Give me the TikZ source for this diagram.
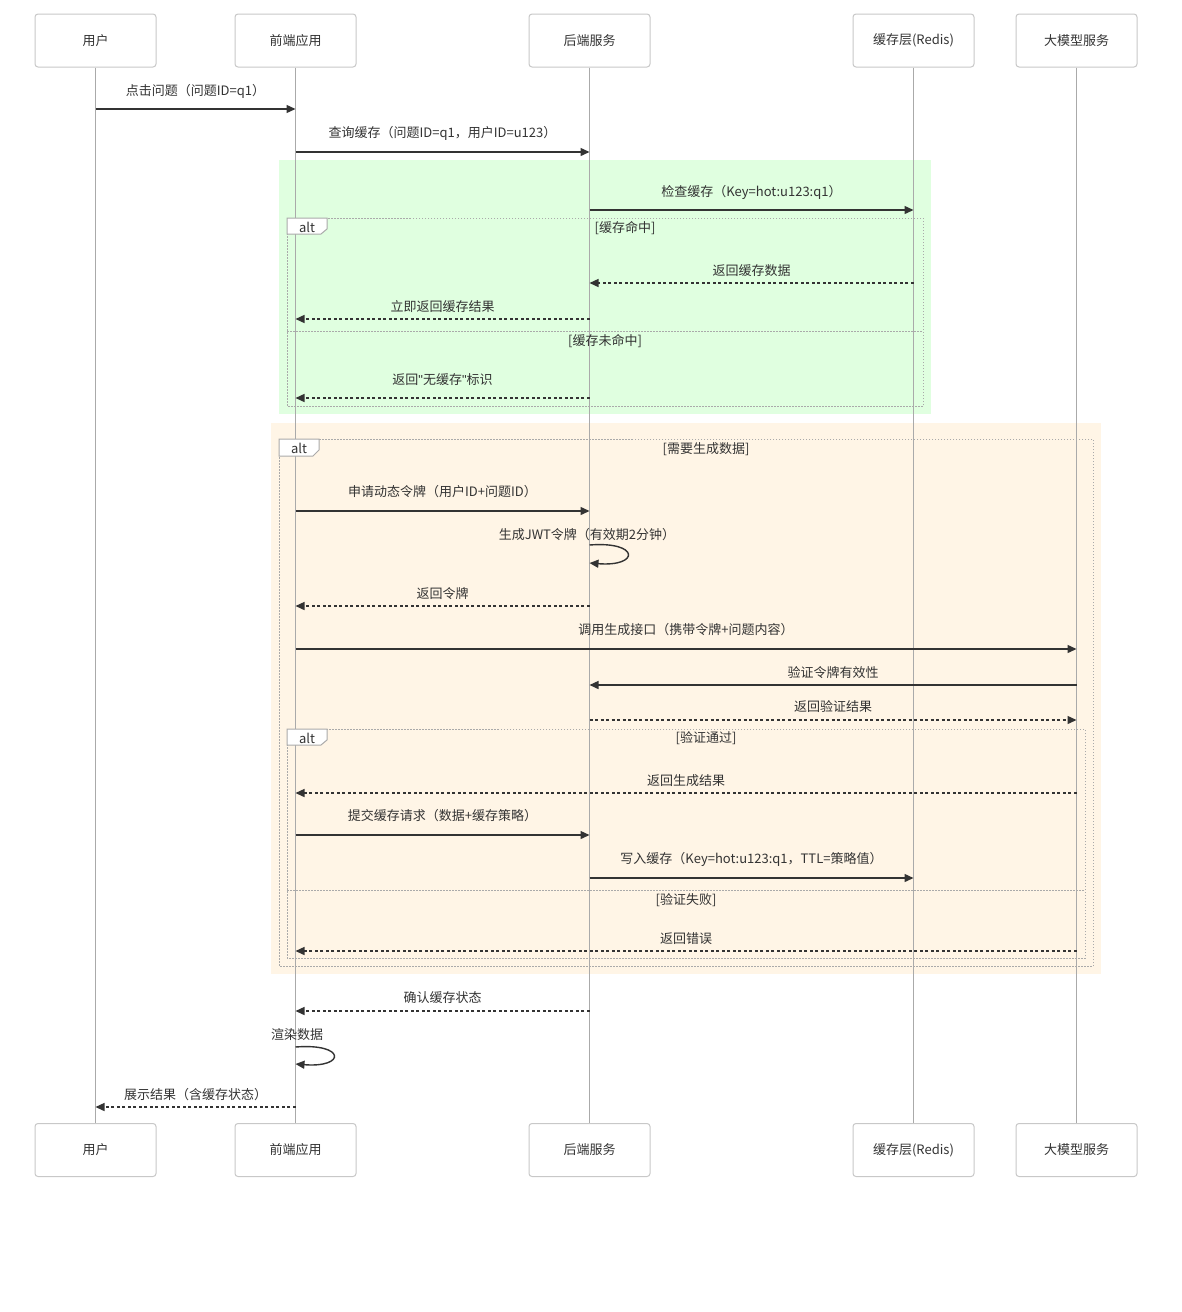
\documentclass[tikz,border=0pt]{standalone}
\usepackage{fontspec}
\setmainfont{Noto Sans CJK SC}
\newfontfamily\latfont{Liberation Sans}
\usetikzlibrary{arrows.meta}
\definecolor{txt}{HTML}{333333}
\definecolor{lifec}{HTML}{AAAAAA}
\definecolor{boxc}{HTML}{C8C8C8}
\definecolor{framec}{HTML}{AAAAAA}
\definecolor{greenbg}{RGB}{224,255,224}
\definecolor{orangebg}{RGB}{255,245,230}
\tikzset{
  actor/.style={draw=boxc, fill=white, rounded corners=3pt, line width=1pt,
    minimum width=121pt, minimum height=53pt, inner sep=0pt, text=txt},
  life/.style={draw=lifec, line width=1.5pt},
  msg/.style={draw=txt, line width=1.4pt, -{Triangle[length=9pt,width=8pt]}},
  ret/.style={msg, dash pattern=on 3pt off 2.5pt},
  lbl/.style={text=txt, inner sep=0pt, anchor=center},
  frame/.style={draw=framec, line width=1pt, dash pattern=on 1.5pt off 1.5pt},
  tab/.style={draw=framec, fill=white, line width=1pt},
}
\newcommand\msgline[7]{% name, y, x1, x2, style, label y, label
  \coordinate (#1a) at (#3,#2);
  \coordinate (#1b) at (#4,#2);
  \draw[#5] (#1a) -- (#1b);
  \node[lbl] (#1t) at ({(#3+#4)/2},#6) {#7};
}
\newcommand\dq{{\latfont\symbol{34}}}
\begin{document}
\begin{tikzpicture}[x=1pt,y=-1pt,font=\fontsize{13}{15}\selectfont]
\fill[white] (0,0) rectangle (1182,1312);
\useasboundingbox (0,0) rectangle (1182,1312);

% background rects
\fill[greenbg] (279,160) rectangle (931,414);
\fill[orangebg] (271,423) rectangle (1101,974);

% actors
\node[actor] (uT) at (95.5,40.5) {用户};
\node[actor] (fT) at (295.5,40.5) {前端应用};
\node[actor] (bT) at (589.5,40.5) {后端服务};
\node[actor] (cT) at (913.5,40.5) {缓存层(Redis)};
\node[actor] (mT) at (1076.5,40.5) {大模型服务};
\node[actor] (uB) at (95.5,1150) {用户};
\node[actor] (fB) at (295.5,1150) {前端应用};
\node[actor] (bB) at (589.5,1150) {后端服务};
\node[actor] (cB) at (913.5,1150) {缓存层(Redis)};
\node[actor] (mB) at (1076.5,1150) {大模型服务};

\def\xU{95.5}\def\xF{295.5}\def\xB{589.5}\def\xC{913.5}\def\xM{1076.5}

% lifelines
\draw[life] (uT.south) -- (uB.north);
\draw[life] (fT.south) -- (fB.north);
\draw[life] (bT.south) -- (bB.north);
\draw[life] (cT.south) -- (cB.north);
\draw[life] (mT.south) -- (mB.north);

% frame 1: alt cache
\draw[frame] (287,218) rectangle (923,406);
\draw[frame] (287,331) -- (923,331);
\draw[tab] (287,218) -- (327,218) -- (327,229) -- (321,234) -- (287,234) -- cycle;
\node[lbl] (alt1) at (307,227) {alt};
\node[lbl] (g1) at (625,228) {[缓存命中]};
\node[lbl] (g2) at (605,341) {[缓存未命中]};

% frame 2: alt generate
\draw[frame] (279,439) rectangle (1093,966);
\draw[tab] (279,439) -- (319,439) -- (319,450) -- (313,456) -- (279,456) -- cycle;
\node[lbl] (alt2) at (299,448) {alt};
\node[lbl] (g3) at (706,449) {[需要生成数据]};

% frame 3: alt verify
\draw[frame] (287,729) rectangle (1085,958);
\draw[frame] (287,890) -- (1085,890);
\draw[tab] (287,729) -- (327,729) -- (327,740) -- (321,745) -- (287,745) -- cycle;
\node[lbl] (alt3) at (307,738) {alt};
\node[lbl] (g4) at (706,738) {[验证通过]};
\node[lbl] (g5) at (686,900) {[验证失败]};

% messages
\msgline{m1}{109}{\xU}{\xF}{msg}{91}{点击问题（问题ID=q1）}
\msgline{m2}{152}{\xF}{\xB}{msg}{133}{查询缓存（问题ID=q1，用户ID=u123）}
\msgline{m3}{210}{\xB}{\xC}{msg}{192}{检查缓存（Key=hot:u123:q1）}
\msgline{m4}{283}{\xC}{\xB}{ret}{271}{返回缓存数据}
\msgline{m5}{319}{\xB}{\xF}{ret}{307}{立即返回缓存结果}
\msgline{m6}{398}{\xB}{\xF}{ret}{380}{返回\dq 无缓存\dq 标识}
\msgline{m7}{511}{\xF}{\xB}{msg}{492}{申请动态令牌（用户ID+问题ID）}

% self loop: JWT
\coordinate (s1a) at (\xB,545);
\coordinate (s1b) at (\xB,563);
\draw[msg] (s1a) .. controls (640,541) and (640,567) .. (s1b);
\node[lbl] (s1t) at (587,535) {生成JWT令牌（有效期2分钟）};

\msgline{m9}{606}{\xB}{\xF}{ret}{594}{返回令牌}
\msgline{m10}{649}{\xF}{\xM}{msg}{630}{调用生成接口（携带令牌+问题内容）}
\msgline{m11}{685}{\xM}{\xB}{msg}{673}{验证令牌有效性}
\msgline{m12}{720}{\xB}{\xM}{ret}{707}{返回验证结果}
\msgline{m13}{793}{\xM}{\xF}{ret}{781}{返回生成结果}
\msgline{m14}{835}{\xF}{\xB}{msg}{816}{提交缓存请求（数据+缓存策略）}
\msgline{m15}{878}{\xB}{\xC}{msg}{859}{写入缓存（Key=hot:u123:q1，TTL=策略值）}
\msgline{m16}{951}{\xM}{\xF}{ret}{939}{返回错误}
\msgline{m17}{1011}{\xB}{\xF}{ret}{998}{确认缓存状态}

% self loop: render
\coordinate (s2a) at (\xF,1047);
\coordinate (s2b) at (\xF,1064);
\draw[msg] (s2a) .. controls (346,1043) and (346,1068) .. (s2b);
\node[lbl] (s2t) at (297,1035) {渲染数据};

\msgline{m19}{1107}{\xF}{\xU}{ret}{1095}{展示结果（含缓存状态）}
\end{tikzpicture}
\end{document}
